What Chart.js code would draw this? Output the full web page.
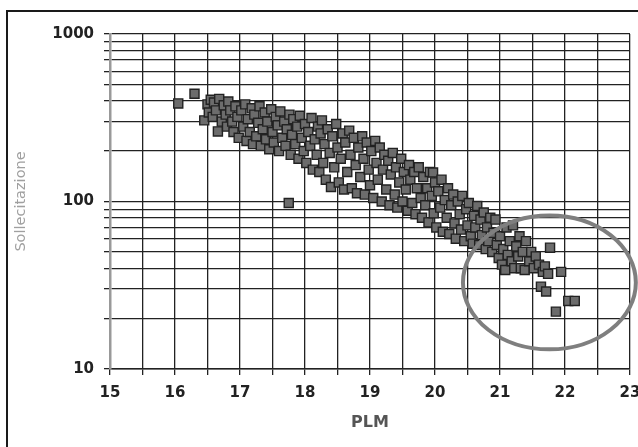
<!DOCTYPE html>
<html>
<head>
<meta charset="utf-8">
<script src="https://cdn.jsdelivr.net/npm/chart.js@4.4.1/dist/chart.umd.min.js"></script>
<style>
html, body { margin: 0; padding: 0; background: #fff; overflow: hidden; }
#wrap { position: relative; width: 638px; height: 447px; }
#cornice { position: absolute; left: 6px; top: 10px; width: 700px; height: 500px; border: 2px solid #1a1a1a; pointer-events: none; }
canvas { position: absolute; left: 0; top: 0; }
</style>
</head>
<body>
<div id="wrap">
  <canvas id="grafico" width="638" height="447"></canvas>
  <div id="cornice"></div>
</div>
<script>
// valori (PLM, Sollecitazione)
const plm = [
  16.05, 16.3, 16.45, 16.5, 16.52, 16.55, 16.58, 16.6, 16.63, 16.66, 16.68,
  16.72, 16.75, 16.78, 16.8, 16.82, 16.85, 16.88, 16.9, 16.93, 16.96, 16.98,
  17.02, 17.05, 17.08, 17.1, 17.12, 17.15, 17.18, 17.2, 17.22, 17.25, 17.28, 17.3, 17.32, 17.35, 17.38, 17.4,
  17.42, 17.45, 17.48, 17.5, 17.52, 17.55, 17.58, 17.6, 17.62, 17.65, 17.68, 17.7, 17.72, 17.75, 17.76, 17.78,
  17.8, 17.82, 17.85, 17.88, 17.9, 17.92, 17.95, 17.98, 18.0, 18.02, 18.05, 18.08, 18.1, 18.12, 18.15, 18.18, 18.2, 18.22,
  18.24, 18.26, 18.28, 18.3, 18.32, 18.35, 18.38, 18.4, 18.42, 18.45, 18.48, 18.5, 18.52, 18.55, 18.58, 18.6,
  18.62, 18.65, 18.68, 18.7, 18.72, 18.75, 18.78, 18.8, 18.82, 18.85, 18.88, 18.9, 18.92, 18.95, 18.98, 19.0,
  19.02, 19.05, 19.08, 19.1, 19.12, 19.15, 19.18, 19.2, 19.22, 19.25, 19.28, 19.3, 19.32, 19.35, 19.38, 19.4,
  19.42, 19.45, 19.48, 19.5, 19.52, 19.55, 19.58, 19.6, 19.62, 19.65, 19.68, 19.7, 19.72, 19.75, 19.78, 19.8,
  19.82, 19.85, 19.88, 19.9, 19.92, 19.95, 19.97, 19.98, 20.0, 20.02, 20.05, 20.08, 20.1, 20.12, 20.15, 20.18, 20.2,
  20.22, 20.25, 20.28, 20.3, 20.32, 20.35, 20.38, 20.4, 20.42, 20.45, 20.48, 20.5, 20.52, 20.55, 20.58, 20.6,
  20.62, 20.65, 20.68, 20.7, 20.72, 20.75, 20.78, 20.8, 20.82, 20.85, 20.88, 20.9, 20.93, 20.95, 20.98,
  21.0, 21.03, 21.05, 21.08, 21.1, 21.12, 21.15, 21.18, 21.2, 21.22, 21.25, 21.28, 21.3, 21.32, 21.35, 21.38, 21.4, 21.45, 21.48,
  21.52, 21.55, 21.6, 21.63, 21.66, 21.69, 21.71, 21.74, 21.77, 21.86, 21.94, 22.05, 22.15
];
const sollecitazione = [
  385, 440, 305, 380, 340, 405, 320, 390, 350, 262, 410,
  300, 375, 330, 280, 395, 350, 300, 260, 370, 320, 240,
  350, 280, 380, 230, 310, 260, 360, 220, 330, 245, 295, 370, 215, 270, 340, 235,
  300, 205, 355, 260, 225, 320, 285, 200, 345, 240, 300, 215, 270, 98, 330, 190,
  250, 310, 220, 280, 180, 325, 240, 200, 290, 170, 260, 215, 315, 155, 235, 190, 280, 150,
  255, 305, 170, 220, 135, 270, 195, 122, 245, 160, 290, 210, 130, 180, 255, 118,
  225, 150, 265, 190, 120, 240, 165, 112, 210, 140, 245, 180, 110, 225, 155, 125,
  200, 105, 230, 170, 135, 210, 100, 155, 190, 118, 175, 95, 145, 195, 110, 160,
  92, 130, 180, 100, 150, 118, 88, 165, 135, 98, 150, 84, 120, 160, 105, 80,
  140, 95, 120, 75, 150, 108, 149, 85, 130, 70, 115, 92, 135, 66, 102, 80, 120,
  64, 95, 110, 74, 60, 100, 84, 68, 108, 58, 90, 72, 98, 62, 56, 82,
  70, 94, 55, 78, 63, 86, 52, 70, 58, 80, 50, 65, 78, 55, 46,
  62, 42, 52, 39, 70, 48, 58, 44, 72, 40, 54, 47, 62, 40, 50, 39, 58, 44, 50,
  40, 47, 42, 31, 38, 41, 29, 37, 53, 22, 38, 25.5, 25.5
];

// griglia ed etichette
const yGriglia = [10, 20, 30, 40, 50, 60, 70, 80, 90, 100, 200, 300, 400, 500, 600, 700, 800, 900, 1000];
const yEtichette = [10, 100, 1000];

// ellisse che evidenzia la zona in basso a destra (coordinate dei dati)
const ellisseX = [20.43, 23.09];
const ellisseY = [13.1, 82.5];

const pluginEllisse = {
  id: 'ellisse',
  afterDatasetsDraw(chart) {
    const { ctx, scales: { x, y } } = chart;
    const x0 = x.getPixelForValue(ellisseX[0]);
    const x1 = x.getPixelForValue(ellisseX[1]);
    const y0 = y.getPixelForValue(ellisseY[0]);
    const y1 = y.getPixelForValue(ellisseY[1]);
    ctx.save();
    ctx.strokeStyle = '#7f7f7f';
    ctx.lineWidth = 4;
    ctx.beginPath();
    ctx.ellipse((x0 + x1) / 2, (y0 + y1) / 2, Math.abs(x1 - x0) / 2, Math.abs(y1 - y0) / 2, 0, 0, 2 * Math.PI);
    ctx.stroke();
    ctx.restore();
  }
};

const coloreGriglia = '#222';
const fontTick = { family: 'DejaVu Sans', weight: 'bold', size: 15 };

const ctx = document.getElementById('grafico').getContext('2d');
new Chart(ctx, {
  type: 'scatter',
  data: {
    datasets: [{
      data: plm.map((v, i) => ({ x: v, y: sollecitazione[i] })),
      pointStyle: 'rect',
      pointRadius: 6.4,
      backgroundColor: '#6c6c6c',
      borderColor: '#222',
      borderWidth: 1.4
    }]
  },
  options: {
    responsive: false,
    animation: false,
    layout: { padding: { left: 0, top: 34, right: 8, bottom: 0 } },
    plugins: {
      legend: { display: false },
      tooltip: { enabled: false }
    },
    scales: {
      x: {
        type: 'linear',
        min: 15,
        max: 23,
        afterFit: s => { s.height = 78; s.paddingLeft = 0; s.paddingRight = 0; },
        ticks: {
          stepSize: 0.5,
          autoSkip: false,
          maxRotation: 0,
          padding: 9,
          color: '#222',
          font: fontTick,
          callback: v => Number.isInteger(v) ? String(v) : ''
        },
        grid: { color: coloreGriglia, lineWidth: 1.3, tickLength: 6 },
        border: { color: coloreGriglia, width: 1.5 },
        title: {
          display: true,
          text: 'PLM',
          color: '#555',
          font: { family: 'DejaVu Sans', weight: 'bold', size: 16 },
          padding: { top: 0, bottom: 14.4 }
        }
      },
      y: {
        type: 'logarithmic',
        min: 10,
        max: 1000,
        afterFit: s => { s.width = 110; },
        afterBuildTicks: s => { s.ticks = yGriglia.map(v => ({ value: v })); },
        ticks: {
          autoSkip: false,
          padding: 10,
          color: '#222',
          font: fontTick,
          callback: v => yEtichette.includes(v) ? String(v) : ''
        },
        grid: { color: coloreGriglia, lineWidth: 1.3, tickLength: 6 },
        border: { color: '#999', width: 2.5 },
        title: {
          display: true,
          text: 'Sollecitazione',
          color: '#a0a0a0',
          font: { family: 'DejaVu Sans', size: 14.5 },
          padding: { top: 12.8, bottom: 0 }
        }
      }
    }
  },
  plugins: [pluginEllisse]
});
</script>
</body>
</html>
